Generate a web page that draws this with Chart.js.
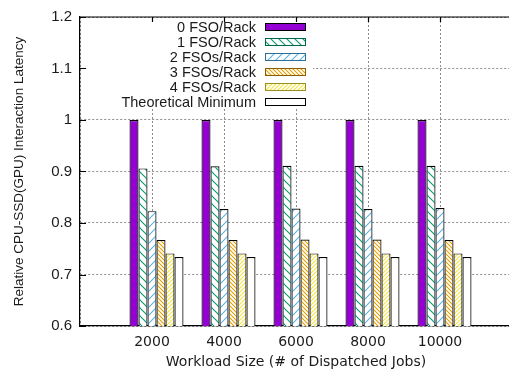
<!DOCTYPE html>
<html>
<head>
<meta charset="utf-8">
<script src="https://cdn.jsdelivr.net/npm/chart.js@4.4.1/dist/chart.umd.min.js"></script>
<style>
  body { margin: 0; overflow: hidden; background: #fff; }
  #wrap { width: 520px; height: 371px; }
</style>
</head>
<body>
<div id="wrap"><canvas id="latency_chart" width="520" height="371"></canvas></div>
<script>
const workloads = ['2000', '4000', '6000', '8000', '10000'];
const seriesNames = ['0 FSO/Rack', '1 FSO/Rack', '2 FSOs/Rack', '3 FSOs/Rack', '4 FSOs/Rack', 'Theoretical Minimum'];
const fso0 = [1, 1, 1, 1, 1];
const fso1 = [0.906, 0.910, 0.911, 0.911, 0.911];
const fso2 = [0.823, 0.827, 0.828, 0.827, 0.829];
const fso3 = [0.767, 0.767, 0.768, 0.768, 0.767];
const fso4 = [0.741, 0.741, 0.741, 0.741, 0.741];
const theoreticalMin = [0.734, 0.734, 0.734, 0.734, 0.734];
const yTicks = [0.6, 0.7, 0.8, 0.9, 1, 1.1, 1.2];

const SANS = '"Liberation Sans", Arial, sans-serif';
const DEJAVU = '"DejaVu Sans", sans-serif';

// diagonal hatch tile, dir '\\' or '/'
function hatch(color, period, dir) {
    const c = document.createElement('canvas');
    c.width = period;
    c.height = period;
    const g = c.getContext('2d');
    g.fillStyle = '#fff';
    g.fillRect(0, 0, period, period);
    g.strokeStyle = color;
    g.lineWidth = 1.1;
    g.beginPath();
    if (dir === '/') {
        g.moveTo(-1, period + 1); g.lineTo(period + 1, -1);
        g.moveTo(-1, 1); g.lineTo(1, -1);
        g.moveTo(period - 1, period + 1); g.lineTo(period + 1, period - 1);
    } else {
        g.moveTo(-1, -1); g.lineTo(period + 1, period + 1);
        g.moveTo(-1, period - 1); g.lineTo(1, period + 1);
        g.moveTo(period - 1, -1); g.lineTo(period + 1, 1);
    }
    g.stroke();
    return g.createPattern(c, 'repeat');
}

// empty slot at each end of the category axis so the groups sit on the 2000..10000 ticks
const pad = arr => [null, ...arr, null];

const series = [
    { data: fso0, fill: '#9400d3', key: '#000' },
    { data: fso1, fill: hatch('#009e73', 8, '\\'), key: '#00664a' },
    { data: fso2, fill: hatch('#56b4e9', 8, '/'), key: '#2f6f94' },
    { data: fso3, fill: hatch('#e69f00', 4, '\\'), key: '#8a5f00' },
    { data: fso4, fill: hatch('#f0e442', 4, '/'), key: '#9a9020' },
    { data: theoreticalMin, fill: '#fff', key: '#000' }
];

const datasets = [{
    // gap before each cluster
    label: '',
    data: pad(workloads.map(() => null)),
    backgroundColor: 'transparent',
    borderWidth: 0,
    isGap: true
}];
series.forEach((s, i) => {
    datasets.push({
        label: seriesNames[i],
        data: pad(s.data),
        backgroundColor: s.fill,
        borderColor: '#000',
        borderWidth: 1.2,
        borderSkipped: 'bottom',
        keyColor: s.key
    });
});

const keyBox = {
    id: 'keyBox',
    afterDatasetsDraw(chart) {
        const ctx = chart.ctx;
        ctx.save();
        ctx.fillStyle = '#fff';
        ctx.fillRect(87, 19, 226, 90);
        ctx.font = '14.5px ' + SANS;
        ctx.textAlign = 'right';
        ctx.textBaseline = 'middle';
        let row = 0;
        chart.data.datasets.forEach(ds => {
            if (ds.isGap) return;
            const y = 27 + row * 15;
            ctx.fillStyle = '#1a1a1a';
            ctx.fillText(ds.label, 256, y + 0.5);
            ctx.fillStyle = ds.backgroundColor;
            ctx.fillRect(265, y - 3.5, 41, 7);
            ctx.strokeStyle = ds.keyColor;
            ctx.lineWidth = 1;
            ctx.strokeRect(265.5, y - 3.5, 40, 7);
            row++;
        });
        ctx.restore();
    },
    afterDraw(chart) {
        const { ctx, chartArea: a, scales } = chart;
        ctx.save();
        ctx.strokeStyle = '#000';
        ctx.lineWidth = 1.2;
        ctx.beginPath();
        ctx.moveTo(a.left, a.top);
        ctx.lineTo(a.right, a.top);
        // inward tick marks
        scales.y.ticks.forEach(t => {
            const py = Math.round(scales.y.getPixelForValue(t.value)) + 0.5;
            ctx.moveTo(a.left, py);
            ctx.lineTo(a.left + 6, py);
        });
        workloads.forEach((w, i) => {
            const px = Math.round(scales.x.getPixelForValue(i + 1)) + 0.5;
            ctx.moveTo(px, a.top);
            ctx.lineTo(px, a.top + 5);
        });
        ctx.stroke();
        ctx.restore();
    }
};

new Chart(document.getElementById('latency_chart').getContext('2d'), {
    type: 'bar',
    data: {
        labels: pad(workloads).map(l => l || ''),
        datasets: datasets
    },
    options: {
        responsive: false,
        animation: false,
        layout: { padding: { top: 15, right: 8, left: 0, bottom: 0 } },
        datasets: { bar: { categoryPercentage: 0.875, barPercentage: 1 } },
        plugins: { legend: { display: false }, tooltip: { enabled: false } },
        scales: {
            x: {
                offset: false,
                grid: { offset: false, color: '#8c8c8c', lineWidth: 1, drawTicks: false },
                border: { display: true, color: '#000', width: 1.2, dash: [2, 2] },
                ticks: {
                    color: '#1a1a1a',
                    font: { family: DEJAVU, size: 14 },
                    padding: 8,
                    maxRotation: 0,
                    autoSkip: false
                },
                title: {
                    display: true,
                    text: 'Workload Size (# of Dispatched Jobs)',
                    color: '#1a1a1a',
                    font: { family: DEJAVU, size: 14 },
                    padding: { top: 6, bottom: 0 }
                },
                afterFit: scale => { scale.height = 45; }
            },
            y: {
                min: 0.6,
                max: 1.2,
                afterBuildTicks: scale => { scale.ticks = yTicks.map(v => ({ value: v })); },
                grid: { color: '#8c8c8c', lineWidth: 1, drawTicks: false },
                border: { display: true, color: '#000', width: 1.2, dash: [2, 2] },
                ticks: {
                    color: '#1a1a1a',
                    font: { family: SANS, size: 15 },
                    padding: 8,
                    callback: v => String(+Number(v).toFixed(1))
                },
                title: {
                    display: true,
                    text: 'Relative CPU-SSD(GPU) Interaction Latency',
                    color: '#1a1a1a',
                    font: { family: SANS, size: 13.5 },
                    padding: { top: 11, bottom: 4 }
                },
                afterFit: scale => { scale.width = 80; }
            }
        }
    },
    plugins: [keyBox]
});
</script>
</body>
</html>
